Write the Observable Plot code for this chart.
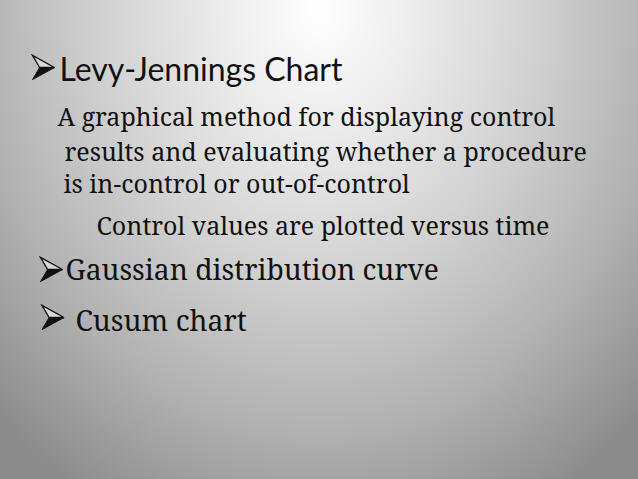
<!DOCTYPE html>
<html><head><meta charset="utf-8">
<script src="https://cdn.jsdelivr.net/npm/d3@7"></script>
<script src="https://cdn.jsdelivr.net/npm/@observablehq/plot@0.6"></script>
<style>
html,body{margin:0;padding:0;}
#slide{width:638px;height:479px;position:relative;overflow:hidden;
 background:radial-gradient(ellipse 72% 118% at 50% 2%, #ffffff 0%, #ededed 20%, #d3d3d3 46%, #b2b2b2 74%, #8c8c8c 100%);}
#slide svg{display:block;background:transparent;}
</style>
</head><body><div id="slide"></div><script>
// Slide content
const headings = ["Levy-Jennings Chart", "Gaussian distribution curve", "Cusum chart"];
const definitionLines = [
  "A graphical method for displaying control",
  "results and evaluating whether a procedure",
  "is in-control or out-of-control"
];
const subPoints = ["Control values are plotted versus time"];

// Layout (baseline positions in slide pixels)
const headingX = [59, 65, 75];
const headingY = [80, 279, 330];
const headingFont = ["Lato", "Noto Serif", "Noto Serif"];
const headingSize = [32, 28.2, 28.3];
const bulletX = [43, 51, 52.5];
const bulletY = [67, 269, 317];
const defX = [57, 64, 63];
const defY = [125, 160, 192];
const subX = [96];
const subY = [234];

const H = headings.map((t, i) => ({t, x: headingX[i], y: headingY[i], bx: bulletX[i], by: bulletY[i], f: headingFont[i], s: headingSize[i]}));
const D = definitionLines.map((t, i) => ({t, x: defX[i], y: defY[i]}));
const S = subPoints.map((t, i) => ({t, x: subX[i], y: subY[i]}));

// Arrowhead bullet (Wingdings-style ➢): upper half outlined, lower half solid
const arrowUpper = {draw(ctx, size) {
  const s = Math.sqrt(size / Math.PI);
  ctx.moveTo(-s, -1.1 * s); ctx.lineTo(s, 0); ctx.lineTo(-0.35 * s, 0); ctx.closePath();
}};
const arrowLower = {draw(ctx, size) {
  const s = Math.sqrt(size / Math.PI);
  ctx.moveTo(-0.35 * s, 0); ctx.lineTo(s, 0); ctx.lineTo(-s, 1.1 * s); ctx.closePath();
}};

const marks = [
  Plot.dot(H, {x: "bx", y: "by", r: 11, symbol: arrowUpper, fill: "#d8d8d8", stroke: "#111", strokeWidth: 1.3}),
  Plot.dot(H, {x: "bx", y: "by", r: 11, symbol: arrowLower, fill: "#111", stroke: "#111", strokeWidth: 1})
];
H.forEach(d => {
  marks.push(Plot.text([d], {x: "x", y: "y", text: "t", textAnchor: "start", lineAnchor: "bottom",
    fontFamily: d.f, fontSize: d.s, fill: "#111"}));
});
marks.push(Plot.text(D, {x: "x", y: "y", text: "t", textAnchor: "start", lineAnchor: "bottom",
  fontFamily: "Noto Serif", fontSize: 25, fill: "#111"}));
marks.push(Plot.text(S, {x: "x", y: "y", text: "t", textAnchor: "start", lineAnchor: "bottom",
  fontFamily: "Noto Serif", fontSize: 25, fill: "#111"}));

const chart = Plot.plot({
  width: 638, height: 479, margin: 0,
  x: {type: "linear", domain: [0, 638], range: [0, 638], axis: null},
  y: {type: "linear", domain: [0, 479], range: [0, 479], axis: null},
  style: {background: "transparent", overflow: "visible"},
  marks
});
document.getElementById("slide").appendChild(chart);
</script></body></html>
